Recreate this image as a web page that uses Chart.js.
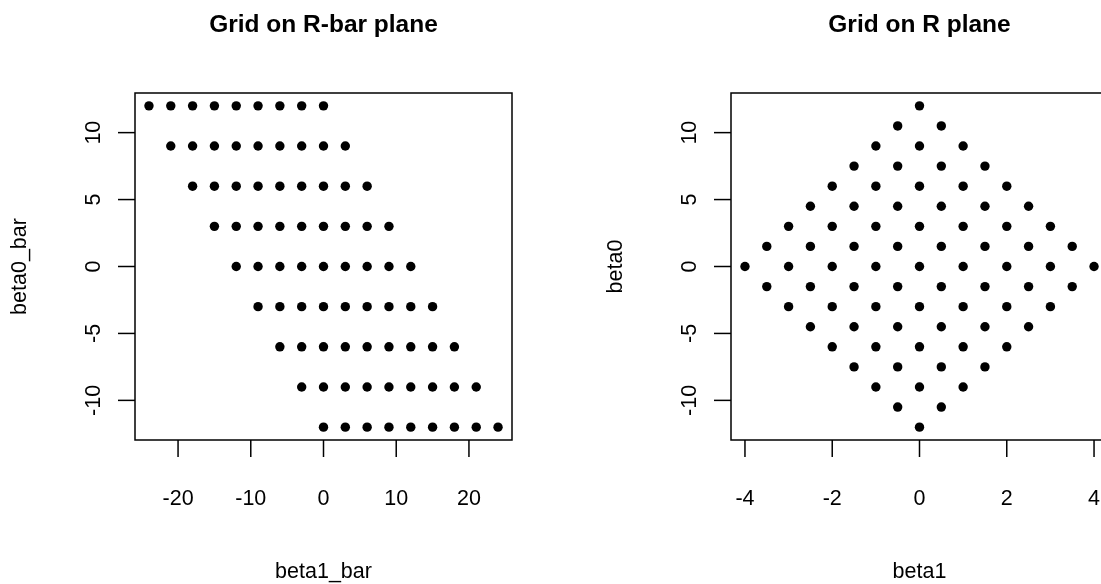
<!DOCTYPE html>
<html>
<head>
<meta charset="utf-8">
<script src="https://cdn.jsdelivr.net/npm/chart.js@4/dist/chart.umd.min.js"></script>
<style>
  html, body { margin: 0; padding: 0; background: #fff; overflow: hidden; }
  #wrap { position: relative; width: 1101px; height: 584px; overflow: hidden; }
  canvas { position: absolute; top: 0; }
  #left { left: 0; }
  #right { left: 596px; }
</style>
</head>
<body>
<div id="wrap">
  <canvas id="left" width="596" height="584" style="width:596px;height:584px"></canvas>
  <canvas id="right" width="596" height="584" style="width:596px;height:584px"></canvas>
</div>
<script>
// ---- R-bar plane grid: one row per beta0_bar level ----
const rbarBeta0 = [12, 9, 6, 3, 0, -3, -6, -9, -12];
const rbarBeta1 = [
  [-24, -21, -18, -15, -12, -9, -6, -3, 0],
  [-21, -18, -15, -12, -9, -6, -3, 0, 3],
  [-18, -15, -12, -9, -6, -3, 0, 3, 6],
  [-15, -12, -9, -6, -3, 0, 3, 6, 9],
  [-12, -9, -6, -3, 0, 3, 6, 9, 12],
  [-9, -6, -3, 0, 3, 6, 9, 12, 15],
  [-6, -3, 0, 3, 6, 9, 12, 15, 18],
  [-3, 0, 3, 6, 9, 12, 15, 18, 21],
  [0, 3, 6, 9, 12, 15, 18, 21, 24]
];

// ---- R plane grid: one row per beta0 level ----
const rBeta0 = [12, 10.5, 9, 7.5, 6, 4.5, 3, 1.5, 0, -1.5, -3, -4.5, -6, -7.5, -9, -10.5, -12];
const rBeta1 = [
  [0],
  [-0.5, 0.5],
  [-1, 0, 1],
  [-1.5, -0.5, 0.5, 1.5],
  [-2, -1, 0, 1, 2],
  [-2.5, -1.5, -0.5, 0.5, 1.5, 2.5],
  [-3, -2, -1, 0, 1, 2, 3],
  [-3.5, -2.5, -1.5, -0.5, 0.5, 1.5, 2.5, 3.5],
  [-4, -3, -2, -1, 0, 1, 2, 3, 4],
  [-3.5, -2.5, -1.5, -0.5, 0.5, 1.5, 2.5, 3.5],
  [-3, -2, -1, 0, 1, 2, 3],
  [-2.5, -1.5, -0.5, 0.5, 1.5, 2.5],
  [-2, -1, 0, 1, 2],
  [-1.5, -0.5, 0.5, 1.5],
  [-1, 0, 1],
  [-0.5, 0.5],
  [0]
];

// ---- axis ticks ----
const rbarXTicks = [-20, -10, 0, 10, 20];
const rXTicks = [-4, -2, 0, 2, 4];
const yTicks = [-10, -5, 0, 5, 10];

// ---- axis limits ----
const rbarXLim = [-25.92, 25.92];
const rXLim = [-4.32, 4.32];
const yLim = [-12.96, 12.96];

const FONT = '"Liberation Sans", Arial, Helvetica, sans-serif';

function toPoints(levels, rows) {
  const pts = [];
  levels.forEach((b0, i) => rows[i].forEach(b1 => pts.push({ x: b1, y: b0 })));
  return pts;
}

// Base-graphics style frame: box, outward ticks, rotated y labels, titles
const baseAxes = {
  id: 'baseAxes',
  afterDraw(chart, args, o) {
    const { ctx, chartArea: a, scales } = chart;
    const tickLen = 17;
    ctx.save();
    ctx.strokeStyle = '#000';
    ctx.fillStyle = '#000';
    ctx.lineWidth = 1.5;
    ctx.strokeRect(a.left, a.top, a.right - a.left, a.bottom - a.top);

    ctx.font = '21.5px ' + FONT;
    ctx.textAlign = 'center';
    ctx.textBaseline = 'alphabetic';

    // bottom axis
    o.xTicks.forEach(v => {
      const px = scales.x.getPixelForValue(v);
      ctx.beginPath();
      ctx.moveTo(px, a.bottom);
      ctx.lineTo(px, a.bottom + tickLen);
      ctx.stroke();
      ctx.fillText(String(v), px, 505);
    });

    // left axis
    o.yTicks.forEach(v => {
      const py = scales.y.getPixelForValue(v);
      ctx.beginPath();
      ctx.moveTo(a.left - tickLen, py);
      ctx.lineTo(a.left, py);
      ctx.stroke();
      ctx.save();
      ctx.translate(a.left - 35, py);
      ctx.rotate(-Math.PI / 2);
      ctx.fillText(String(v), 0, 0);
      ctx.restore();
    });

    const cx = (a.left + a.right) / 2;
    const cy = (a.top + a.bottom) / 2;

    // axis titles
    ctx.fillText(o.xTitle, cx, 578);
    ctx.save();
    ctx.translate(a.left - 109, cy);
    ctx.rotate(-Math.PI / 2);
    ctx.fillText(o.yTitle, 0, 0);
    ctx.restore();

    // main title
    ctx.font = 'bold 24.5px ' + FONT;
    ctx.fillText(o.title, cx, 32);
    ctx.restore();
  }
};

function makePanel(id, points, xLim, xTicks, title, xTitle, yTitle) {
  return new Chart(document.getElementById(id), {
    type: 'scatter',
    data: {
      datasets: [{
        data: points,
        pointRadius: 4.7,
        pointHoverRadius: 4.7,
        pointBackgroundColor: '#000',
        pointBorderWidth: 0,
        showLine: false
      }]
    },
    options: {
      responsive: false,
      animation: false,
      events: [],
      layout: { padding: { left: 135, right: 84, top: 93, bottom: 144 } },
      scales: {
        x: { type: 'linear', min: xLim[0], max: xLim[1], display: false },
        y: { type: 'linear', min: yLim[0], max: yLim[1], display: false }
      },
      plugins: {
        legend: { display: false },
        tooltip: { enabled: false },
        baseAxes: { xTicks, yTicks, title, xTitle, yTitle }
      }
    },
    plugins: [baseAxes]
  });
}

makePanel('left', toPoints(rbarBeta0, rbarBeta1), rbarXLim, rbarXTicks,
  'Grid on R-bar plane', 'beta1_bar', 'beta0_bar');
makePanel('right', toPoints(rBeta0, rBeta1), rXLim, rXTicks,
  'Grid on R plane', 'beta1', 'beta0');
</script>
</body>
</html>
